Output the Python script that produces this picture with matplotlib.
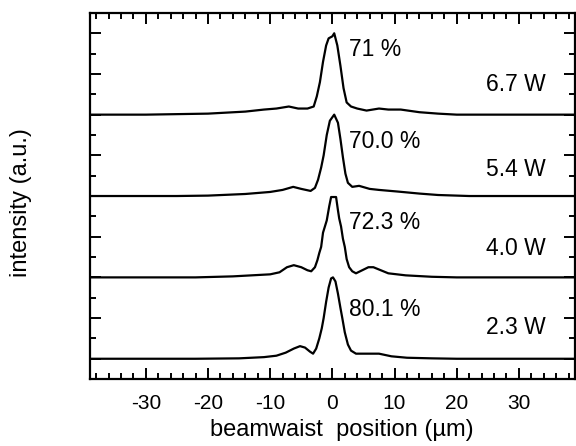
import matplotlib
matplotlib.use("Agg")
import matplotlib.pyplot as plt
from matplotlib.ticker import MultipleLocator

plt.rcParams["font.family"] = ["Liberation Sans", "DejaVu Sans"]
plt.rcParams["axes.unicode_minus"] = False

# profiles: position (um) and height (a.u., peak ~ 4)
x_67 = [-39, -30, -20, -14, -11, -9, -7, -5.5, -4, -3, -2.5, -2, -1.5, -1, -0.6, 0, 0.3,
        0.8, 1.3, 1.8, 2.3, 3, 4, 5.5, 7.5, 9, 11, 14, 17, 20, 39]
y_67 = [0, 0, 0.05, 0.15, 0.25, 0.3, 0.4, 0.3, 0.3, 0.4, 0.9, 1.6, 2.6, 3.4, 3.75, 3.85, 4.0,
        3.4, 2.4, 1.3, 0.6, 0.4, 0.3, 0.2, 0.3, 0.25, 0.25, 0.12, 0.05, 0, 0]

x_54 = [-39, -25, -20, -14, -10, -8, -6.3, -5, -3.5, -2.8, -2.3, -1.8, -1.4, -0.9, -0.4, 0.3,
        0.9, 1.3, 1.7, 2.1, 2.5, 3.2, 4.3, 6, 7.5, 10.5, 14, 17, 22, 39]
y_54 = [0, 0, 0.02, 0.1, 0.2, 0.3, 0.45, 0.35, 0.25, 0.4, 0.8, 1.4, 2.0, 3.0, 3.7, 4.0,
        3.6, 2.8, 1.9, 1.1, 0.65, 0.45, 0.5, 0.35, 0.3, 0.22, 0.12, 0.05, 0, 0]

x_40 = [-39, -22, -16, -13, -10, -8.5, -7.3, -6.2, -5, -4, -3.4, -2.8, -2.4, -2.1, -1.8, -1.5,
        -1.2, -0.9, -0.5, -0.2, 0.6, 0.9, 1.1, 1.4, 1.7, 2.0, 2.3, 2.7, 3.2, 3.8, 4.8, 5.8,
        6.6, 7.8, 9, 11.8, 16, 20, 39]
y_40 = [0, 0, 0.05, 0.1, 0.15, 0.25, 0.5, 0.6, 0.5, 0.35, 0.3, 0.5, 0.85, 1.2, 1.5, 2.2,
        2.5, 2.8, 3.5, 3.95, 3.95, 3.3, 2.9, 2.5, 1.9, 1.5, 0.9, 0.5, 0.3, 0.2, 0.35, 0.5,
        0.5, 0.35, 0.2, 0.1, 0.03, 0, 0]

x_23 = [-39, -22, -15, -11, -9, -7.5, -6.2, -5.2, -4.4, -3.6, -3.1, -2.6, -2.1, -1.7, -1.4,
        -1.0, -0.6, -0.2, 0.1, 0.5, 0.9, 1.3, 1.6, 2.0, 2.5, 3.0, 3.8, 5.5, 7.5, 9.5, 12,
        16, 20, 39]
y_23 = [0, 0, 0.02, 0.08, 0.15, 0.3, 0.5, 0.62, 0.55, 0.35, 0.25, 0.5, 1.0, 1.5, 2.0,
        2.8, 3.5, 3.95, 4.0, 3.8, 3.2, 2.5, 2.0, 1.3, 0.7, 0.4, 0.25, 0.25, 0.25, 0.12, 0.05,
        0.02, 0, 0]

powers = ["2.3 W", "4.0 W", "5.4 W", "6.7 W"]
efficiencies = ["80.1 %", "72.3 %", "70.0 %", "71 %"]
offsets = [0, 4, 8, 12]
profiles = [(x_23, y_23), (x_40, y_40), (x_54, y_54), (x_67, y_67)]

pct_y = [2.42, 6.70, 10.70, 15.18]
pow_y = [1.55, 5.40, 9.30, 13.48]

fig = plt.figure(figsize=(5.76, 4.46), dpi=100)
ax = fig.add_axes([0.156, 0.150, 0.842, 0.821])

for (xs, ys), off in zip(profiles, offsets):
    ax.plot(xs, [v + off for v in ys], color="black", lw=1.6)

for i in range(4):
    ax.text(2.7, pct_y[i], efficiencies[i], ha="left", va="center", fontsize=16.5)
    ax.text(34.4, pow_y[i], powers[i], ha="right", va="center", fontsize=16.5)

ax.set_xlim(-39, 39)
ax.set_ylim(-1, 17)
ax.xaxis.set_major_locator(MultipleLocator(10))
ax.xaxis.set_minor_locator(MultipleLocator(2))
ax.yaxis.set_major_locator(MultipleLocator(2))
ax.yaxis.set_minor_locator(MultipleLocator(1))
ax.tick_params(which="both", direction="in", top=True, right=True, width=1.4,
               labelleft=False, labelsize=15, pad=11)
ax.tick_params(which="major", length=8)
ax.tick_params(which="minor", length=4.5)
for s in ax.spines.values():
    s.set_linewidth(1.6)

fig.text(0.594, 0.035, "beamwaist  position (\u00b5m)", ha="center", va="center", fontsize=17)
fig.text(0.037, 0.545, "intensity (a.u.)", ha="center", va="center", rotation=90, fontsize=17)

fig.savefig("out.png", dpi=100)
